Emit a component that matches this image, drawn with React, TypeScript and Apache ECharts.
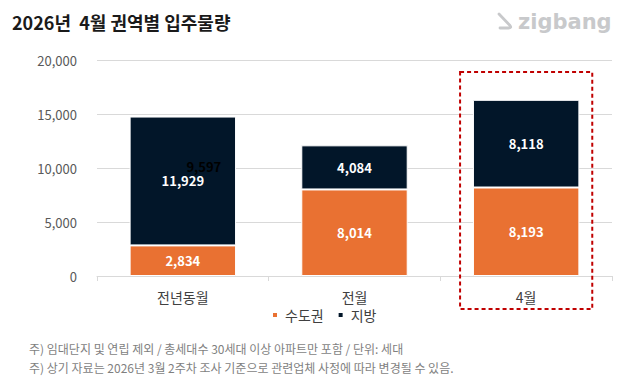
import React, { useEffect, useRef } from "react";
import * as echarts from "echarts";

const categories = ["전년동월", "전월", "4월"];
const metroValues = [2834, 8014, 8193];
const regionValues = [11929, 4084, 8118];
const strayLabelValue = 9597;
const seriesNames = ["수도권", "지방"];
const yMin = 0;
const yMax = 20000;
const yInterval = 5000;
const titleText = "2026년  4월 권역별 입주물량";
const footnotes = [
  "주) 임대단지 및 연립 제외 / 총세대수 30세대 이상 아파트만 포함 / 단위: 세대",
  "주) 상기 자료는 2026년 3월 2주차 조사 기준으로 관련업체 사정에 따라 변경될 수 있음.",
];
const highlightIndex = 2;

const FONT = '"Noto Sans CJK KR", "Noto Sans", sans-serif';
const ORANGE = "#E97132";
const NAVY = "#021629";

echarts.graphic.registerShape(
  "zbicon",
  echarts.graphic.extendPath("M2 2 L13 13.5 Q15 16 11.5 16 L3 16", {})
);

const fmt = (v: number) => v.toLocaleString("en-US");

function staticGraphics() {
  return [
    {
      type: "text",
      left: 12,
      top: 13,
      style: { text: titleText, font: `bold 18px ${FONT}`, fill: "#1a1a1a" },
    },
    {
      type: "zbicon",
      x: 497,
      y: 12,
      style: { stroke: "#c8c9cb", lineWidth: 2.8, fill: "none", lineCap: "round", lineJoin: "round" },
    },
    {
      type: "text",
      x: 518,
      y: 22,
      style: {
        text: "zigbang",
        font: `600 21px "DejaVu Sans", sans-serif`,
        fill: "#c8c9cb",
        textVerticalAlign: "middle",
      },
    },
    ...footnotes.map((t, i) => ({
      type: "text",
      x: 29,
      y: 348 + i * 19,
      style: { text: t, font: `12px ${FONT}`, fill: "#7f7f7f", textVerticalAlign: "middle" },
    })),
  ];
}

export default function App() {
  const ref = useRef<HTMLDivElement>(null);
  useEffect(() => {
    if (!ref.current) return;
    const chart = echarts.init(ref.current, undefined, { renderer: "svg" });
    const labelStyle = {
      show: true,
      position: "inside" as const,
      color: "#fff",
      fontSize: 13,
      fontWeight: "bold" as const,
      fontFamily: FONT,
      formatter: (p: any) => fmt(p.value),
    };
    chart.setOption({
      animation: false,
      backgroundColor: "#fff",
      grid: { left: 97, right: 16, top: 60, bottom: 108 },
      legend: {
        data: seriesNames,
        left: 271,
        top: 308,
        padding: 0,
        itemWidth: 6,
        itemHeight: 6,
        itemGap: 13,
        icon: "rect",
        textStyle: { fontSize: 14, color: "#404040", fontFamily: FONT, padding: [0, 0, 0, 2] },
      },
      xAxis: {
        type: "category",
        data: categories,
        axisLine: { lineStyle: { color: "#d9d9d9" } },
        axisTick: { show: true, length: 5, lineStyle: { color: "#d9d9d9" } },
        axisLabel: { fontSize: 14, color: "#404040", margin: 14, fontFamily: FONT },
      },
      yAxis: {
        type: "value",
        min: yMin,
        max: yMax,
        interval: yInterval,
        axisLine: { show: false },
        axisTick: { show: false },
        splitLine: { lineStyle: { color: "#d9d9d9" } },
        axisLabel: {
          fontSize: 13,
          color: "#595959",
          margin: 20,
          fontFamily: FONT,
          formatter: (v: number) => fmt(v),
        },
      },
      series: [
        {
          name: seriesNames[0],
          type: "bar",
          stack: "total",
          barWidth: "62%",
          data: metroValues,
          itemStyle: { color: ORANGE, borderColor: "#fff", borderWidth: 1 },
          label: labelStyle,
        },
        {
          name: seriesNames[1],
          type: "bar",
          stack: "total",
          barWidth: "62%",
          data: regionValues,
          itemStyle: { color: NAVY, borderColor: "#fff", borderWidth: 1 },
          label: labelStyle,
          markPoint: {
            symbol: "rect",
            symbolSize: 0,
            data: [
              {
                coord: [0, metroValues[0] + regionValues[0] / 2],
                value: strayLabelValue,
              },
            ],
            label: {
              show: true,
              formatter: () => fmt(strayLabelValue),
              color: "#000",
              fontSize: 13,
              fontWeight: "bold",
              fontFamily: FONT,
              offset: [21, -14],
            },
          },
        },
      ],
      graphic: staticGraphics(),
    });
    // highlight box around the selected category
    const cx = chart.convertToPixel({ xAxisIndex: 0 }, categories[highlightIndex]) as number;
    const cx0 = chart.convertToPixel({ xAxisIndex: 0 }, categories[0]) as number;
    const cx1 = chart.convertToPixel({ xAxisIndex: 0 }, categories[1]) as number;
    const band = cx1 - cx0;
    const yTop = chart.convertToPixel({ yAxisIndex: 0 }, 18900) as number;
    const yBase = chart.convertToPixel({ yAxisIndex: 0 }, 0) as number;
    const halfW = band * 0.385;
    chart.setOption(
      {
        graphic: [
          ...staticGraphics(),
          {
            type: "rect",
            shape: { x: cx - halfW, y: yTop, width: halfW * 2, height: yBase + 33 - yTop },
            style: { fill: "none", stroke: "#C00000", lineWidth: 2, lineDash: [4, 3] },
            z: 100,
          },
        ],
      },
      { replaceMerge: ["graphic"] }
    );
    return () => chart.dispose();
  }, []);
  return <div ref={ref} style={{ width: 628, height: 384, margin: -8 }} />;
}
